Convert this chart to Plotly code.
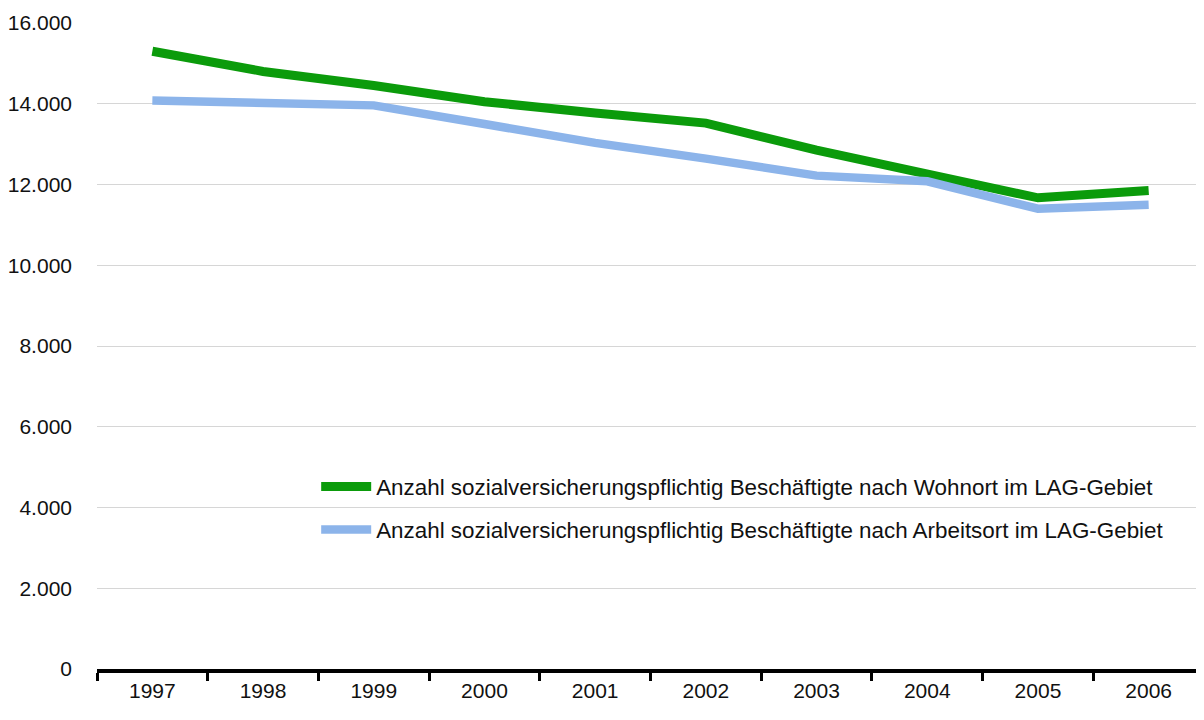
import plotly.graph_objects as go

years = ["1997", "1998", "1999", "2000", "2001", "2002", "2003", "2004", "2005", "2006"]
wohnort = [15300, 14800, 14450, 14050, 13770, 13520, 12850, 12250, 11670, 11850]
arbeitsort = [14080, 14040, 13960, 13500, 13030, 12640, 12220, 12080, 11400, 11500]

name_w = "Anzahl sozialversicherungspflichtig Beschäftigte nach Wohnort im LAG-Gebiet"
name_a = "Anzahl sozialversicherungspflichtig Beschäftigte nach Arbeitsort im LAG-Gebiet"

FONT = "Liberation Sans, Arial, sans-serif"
TXT = "#111111"

# page body has an 8px default margin; compensate in figure size/margins
W, H = 1196, 712
ML, MT, MB = 87, 15, 51
PH = H - MT - MB

fig = go.Figure()
fig.add_trace(go.Scatter(x=years, y=wohnort, mode="lines", name=name_w, showlegend=True,
                         line=dict(color="#0b9b0b", width=9), legend="legend"))
fig.add_trace(go.Scatter(x=years, y=arbeitsort, mode="lines", name=name_a, showlegend=True,
                         line=dict(color="#8cb4ea", width=8.5), legend="legend2"))

leg_common = dict(font=dict(family=FONT, size=22.4, color=TXT), bgcolor="rgba(0,0,0,0)",
                  xanchor="left", yanchor="middle", itemwidth=50, visible=True)
fig.update_layout(
    width=W, height=H,
    margin=dict(l=ML, r=0, t=MT, b=MB),
    paper_bgcolor="white", plot_bgcolor="white",
    separators=",.",
    showlegend=True,
    font=dict(family=FONT, size=21, color=TXT),
    legend=dict(x=0.198, y=(661 - 479) / PH, **leg_common),
    legend2=dict(x=0.198, y=(661 - 522) / PH, **leg_common),
    xaxis=dict(type="category", range=[-0.5, 9.5], tickson="boundaries",
               ticks="outside", ticklen=8, tickwidth=3, tickcolor="black",
               showline=True, linecolor="black", linewidth=4, showgrid=False,
               tickfont=dict(family=FONT, size=21, color=TXT)),
    yaxis=dict(range=[0, 16000], dtick=2000, tickformat=",.0f",
               showgrid=True, gridcolor="#d6d6d6", gridwidth=1,
               zeroline=False, showline=False, ticks="",
               ticklabelstandoff=24,
               tickfont=dict(family=FONT, size=21, color=TXT)),
)

fig.write_html("out.html")
